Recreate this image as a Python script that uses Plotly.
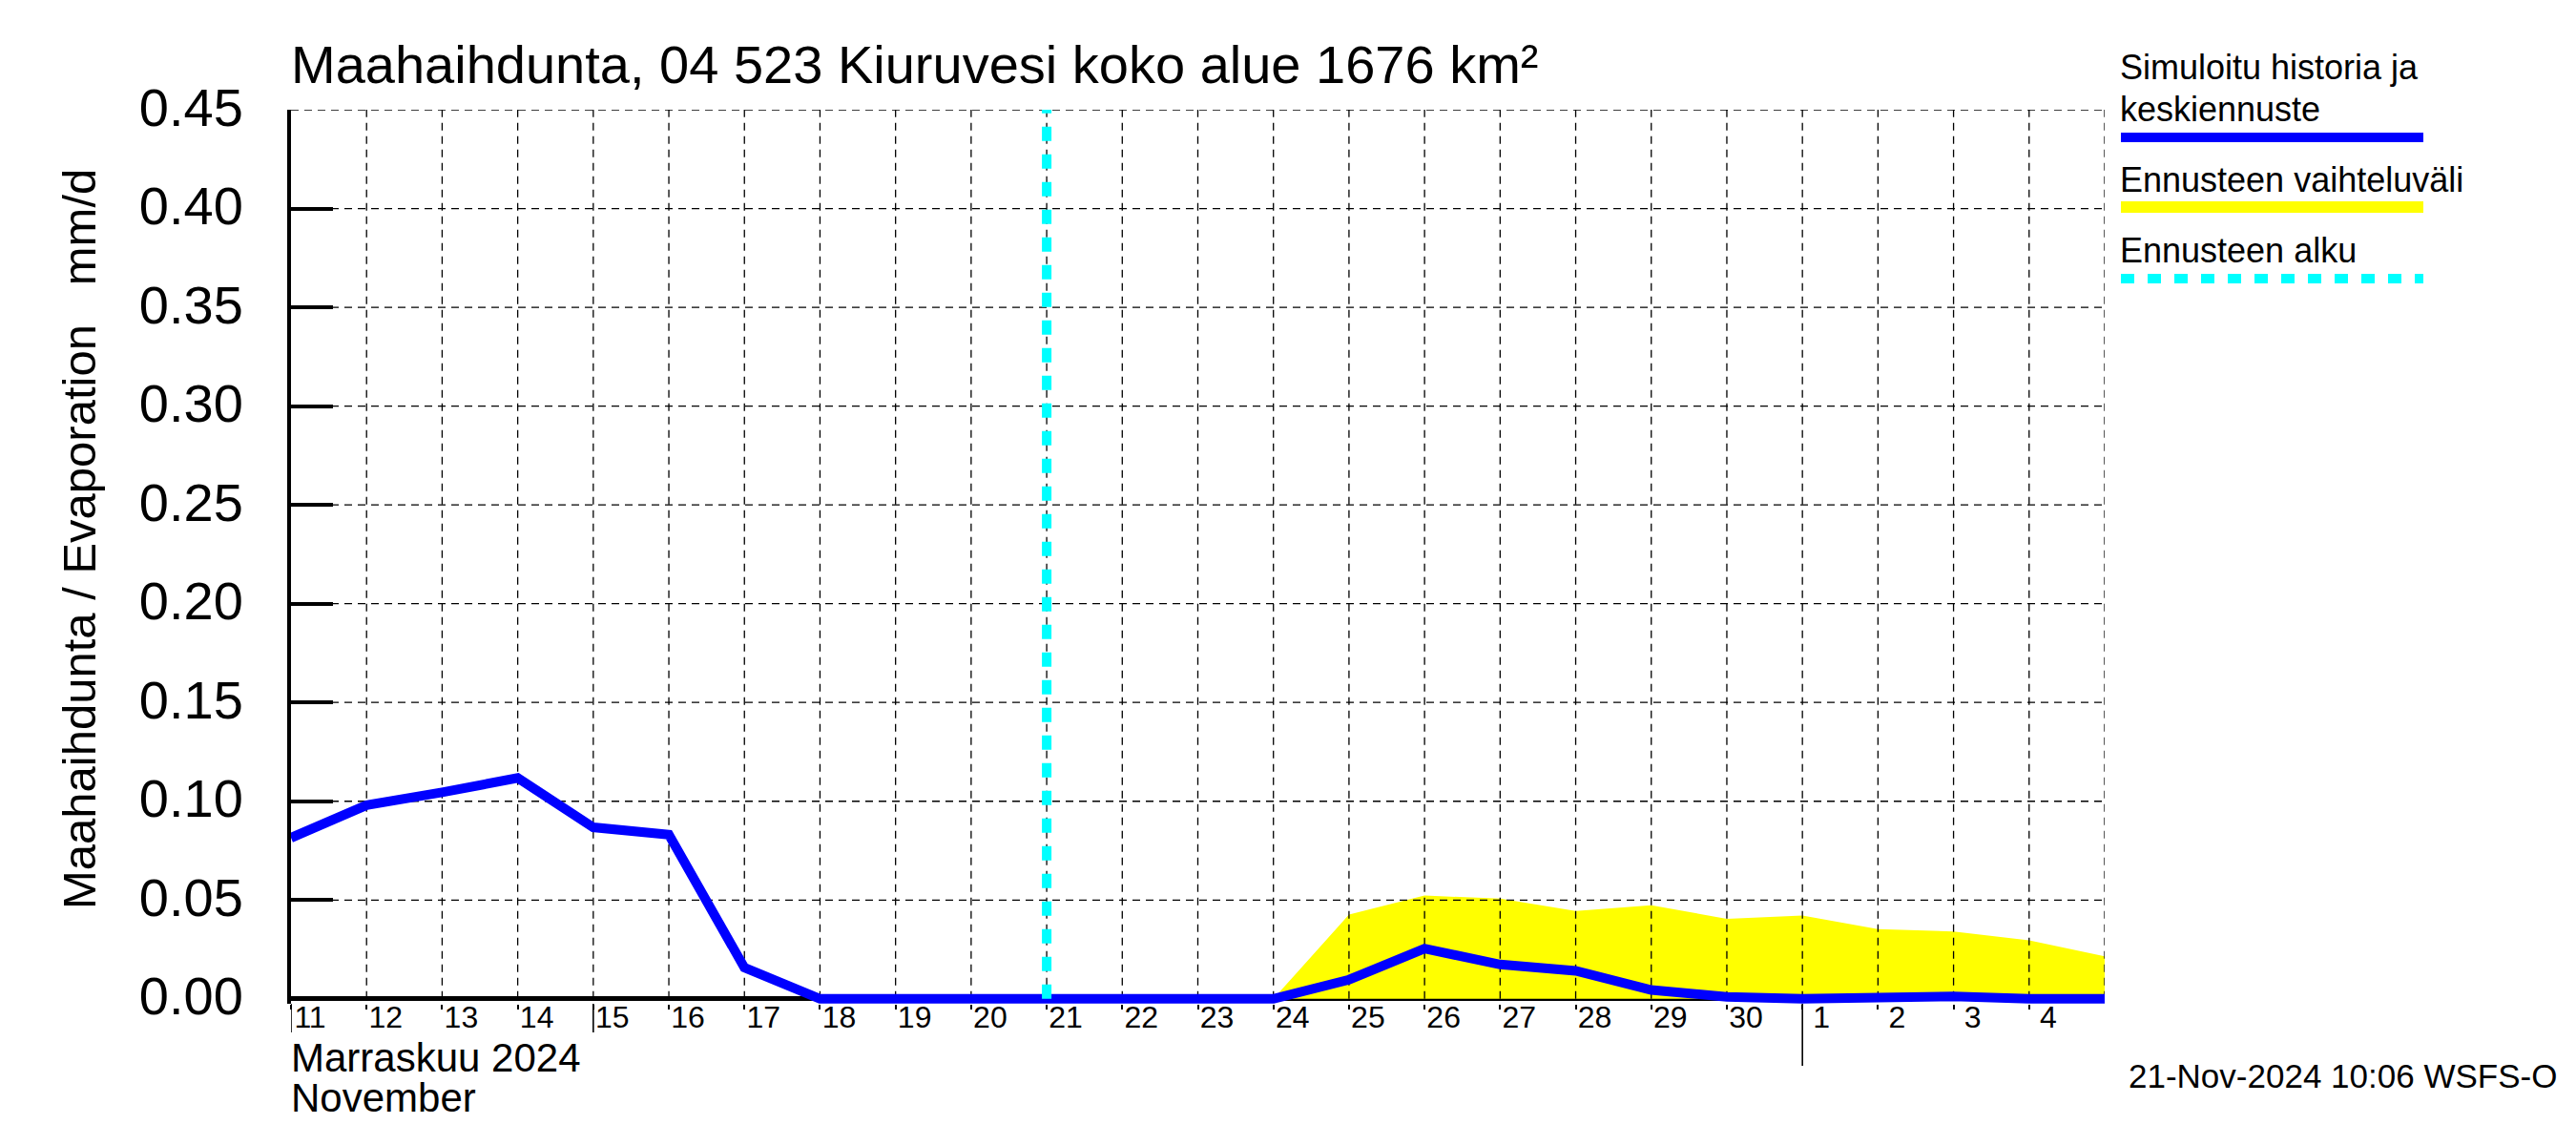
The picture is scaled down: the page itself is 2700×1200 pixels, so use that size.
import plotly.graph_objects as go

# ---------------- data ----------------
days = ["2024-11-11", "2024-11-12", "2024-11-13", "2024-11-14", "2024-11-15",
        "2024-11-16", "2024-11-17", "2024-11-18", "2024-11-19", "2024-11-20",
        "2024-11-21", "2024-11-22", "2024-11-23", "2024-11-24", "2024-11-25",
        "2024-11-26", "2024-11-27", "2024-11-28", "2024-11-29", "2024-11-30",
        "2024-12-01", "2024-12-02", "2024-12-03", "2024-12-04", "2024-12-05"]
sim_values = [0.0815, 0.098, 0.1045, 0.1118, 0.0868,
              0.0831, 0.0158, 0.0, 0.0, 0.0,
              0.0, 0.0, 0.0, 0.0, 0.0097,
              0.0254, 0.0174, 0.0142, 0.0045, 0.0010,
              0.0, 0.0012, 0.0012, 0.0, 0.0]

band_dates = ["2024-11-21", "2024-11-22", "2024-11-23", "2024-11-24", "2024-11-25",
              "2024-11-26", "2024-11-27", "2024-11-28", "2024-11-29", "2024-11-30",
              "2024-12-01", "2024-12-02", "2024-12-03", "2024-12-04", "2024-12-05"]
band_low = [0.0, 0.0, 0.0, 0.0, 0.0, 0.0, 0.0, 0.0, 0.0, 0.0, 0.0, 0.0, 0.0, 0.0, 0.0]
band_high = [0.0, 0.0, 0.0, 0.0, 0.0426, 0.0523, 0.0507, 0.0445, 0.0474, 0.0405,
             0.0422, 0.0353, 0.0341, 0.0296, 0.0215]

forecast_start = "2024-11-21"

tick_dates = days[:-1]
tick_labels = ["11", "12", "13", "14", "15", "16", "17", "18", "19", "20",
               "21", "22", "23", "24", "25", "26", "27", "28", "29", "30",
               "1", "2", "3", "4"]
long_tick_dates = ["2024-11-11", "2024-11-15"]
month_tick_dates = ["2024-12-01"]

y_ticks = [0.0, 0.05, 0.10, 0.15, 0.20, 0.25, 0.30, 0.35, 0.40, 0.45]
y_tick_labels = ["0.00", "0.05", "0.10", "0.15", "0.20", "0.25", "0.30", "0.35", "0.40", "0.45"]

title_text = "Maahaihdunta, 04 523 Kiuruvesi koko alue 1676 km²"
y_title = "Maahaihdunta / Evaporation   mm/d"
legend_labels = ["Simuloitu historia ja", "keskiennuste", "Ennusteen vaihteluväli", "Ennusteen alku"]
month_fi = "Marraskuu 2024"
month_en = "November"
stamp = "21-Nov-2024 10:06 WSFS-O"

# ---------------- layout geometry (pixels) ----------------
W, H = 2700, 1200
PL, PR, PT, PB = 305, 2206, 115, 1052
FONT = "Liberation Sans, Arial, Helvetica, sans-serif"


def px(x):
    return (x - PL) / (PR - PL)


def py(y):
    return (PB - y) / (PB - PT)


BLUE = "#0000FF"
YELLOW = "#FFFF00"
CYAN = "#00FFFF"

fig = go.Figure()

# forecast range band
fig.add_trace(go.Scatter(x=band_dates, y=band_low, mode="lines",
                         line=dict(width=0, color=YELLOW), showlegend=False, hoverinfo="skip"))
fig.add_trace(go.Scatter(x=band_dates, y=band_high, mode="lines", fill="tonexty",
                         fillcolor=YELLOW, line=dict(width=0, color=YELLOW),
                         showlegend=False, hoverinfo="skip"))

# grid (drawn above the band, below the line)
gx, gy = [], []
for d in days[1:]:
    gx += [d, d, None]
    gy += [y_ticks[0], y_ticks[-1], None]
for v in y_ticks[1:]:
    gx += [days[0], days[-1], None]
    gy += [v, v, None]
fig.add_trace(go.Scatter(x=gx, y=gy, mode="lines",
                         line=dict(color="black", width=1.3, dash="8px,6px"),
                         showlegend=False, hoverinfo="skip"))

# simulated history + mean forecast
fig.add_trace(go.Scatter(x=days, y=sim_values, mode="lines",
                         line=dict(color=BLUE, width=10), showlegend=False))

# forecast start
fig.add_trace(go.Scatter(x=[forecast_start, forecast_start], y=[y_ticks[0], y_ticks[-1]],
                         mode="lines", line=dict(color=CYAN, width=10, dash="15px,14px"),
                         showlegend=False, hoverinfo="skip"))

shapes = []
for d in long_tick_dates:
    shapes.append(dict(type="line", xref="x", yref="paper", x0=d, x1=d,
                       y0=0, y1=py(1082), line=dict(color="black", width=1.6)))
for d in month_tick_dates:
    shapes.append(dict(type="line", xref="x", yref="paper", x0=d, x1=d,
                       y0=0, y1=py(1117), line=dict(color="black", width=1.6)))

# legend samples
LX0, LX1 = 2223, 2540
shapes.append(dict(type="line", xref="paper", yref="paper", x0=px(LX0), x1=px(LX1),
                   y0=py(144), y1=py(144), line=dict(color=BLUE, width=10)))
shapes.append(dict(type="line", xref="paper", yref="paper", x0=px(LX0), x1=px(LX1),
                   y0=py(217), y1=py(217), line=dict(color=YELLOW, width=12)))
shapes.append(dict(type="line", xref="paper", yref="paper", x0=px(LX0), x1=px(LX1),
                   y0=py(292), y1=py(292), line=dict(color=CYAN, width=10, dash="14px,14px")))

annotations = []


def add_text(text, x, y_center, size, xanchor="left", angle=0):
    annotations.append(dict(text=text, xref="paper", yref="paper", x=px(x), y=py(y_center),
                            xanchor=xanchor, yanchor="middle", showarrow=False,
                            textangle=angle, borderpad=0,
                            font=dict(family=FONT, size=size, color="black")))


add_text(title_text, 304, 87 - 0.3465 * 56, 56)
add_text(y_title, 83, 565, 49, xanchor="center", angle=-90)
LS = 36
add_text(legend_labels[0], 2221, 83 - 0.3465 * LS, LS)
add_text(legend_labels[1], 2221, 127 - 0.3465 * LS, LS)
add_text(legend_labels[2], 2221, 201 - 0.3465 * LS, LS)
add_text(legend_labels[3], 2221, 275 - 0.3465 * LS, LS)
add_text(month_fi, 304, 1123 - 0.3465 * 42, 42)
add_text(month_en, 304, 1165 - 0.3465 * 42, 42)
add_text(stamp, 2681, 1140 - 0.3465 * 35, 35, xanchor="right")

fig.update_layout(
    width=W, height=H,
    margin=dict(l=PL, r=W - PR, t=PT, b=H - PB, pad=0),
    paper_bgcolor="white", plot_bgcolor="white",
    showlegend=False,
    font=dict(family=FONT, color="black"),
    shapes=shapes, annotations=annotations,
)
fig.update_xaxes(
    type="date", range=[days[0], days[-1]],
    showgrid=False, zeroline=False, showline=False,
    tickvals=tick_dates, ticktext=tick_labels,
    ticks="outside", ticklen=5, tickwidth=1.6, tickcolor="black",
    tickfont=dict(family=FONT, size=32, color="black"),
    ticklabelshift=20, ticklabelstandoff=-19, layer="below traces",
)
fig.update_yaxes(
    range=[-0.0025, 0.45],
    showgrid=False,
    zeroline=True, zerolinecolor="black", zerolinewidth=5,
    showline=True, linecolor="black", linewidth=4,
    tickvals=y_ticks, ticktext=y_tick_labels,
    ticks="inside", ticklen=44, tickwidth=4, tickcolor="black",
    tickfont=dict(family=FONT, size=56, color="black"),
    ticklabelstandoff=35, ticklabelshift=-3, layer="below traces",
)

fig.write_html("out.html", config={"displayModeBar": False},
               post_script="document.body.style.margin='0';document.body.style.overflow='hidden';")
